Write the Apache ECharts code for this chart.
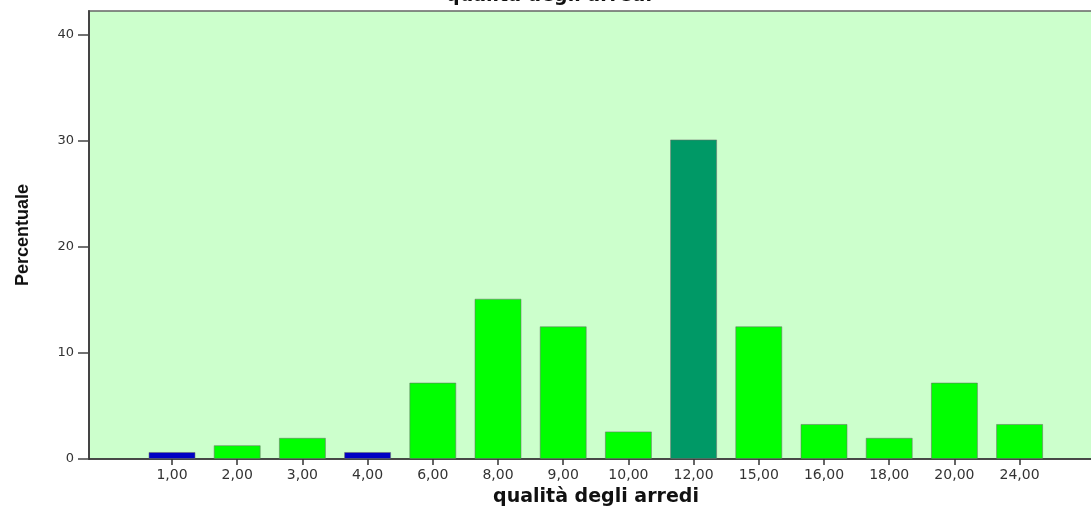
<!DOCTYPE html>
<html>
<head>
<meta charset="utf-8">
<script src="https://cdn.jsdelivr.net/npm/echarts@6/dist/echarts.min.js"></script>
<style>
  html, body { margin: 0; padding: 0; background: #ffffff; }
  #chart { width: 1091px; height: 508px; }
</style>
</head>
<body>
<div id="chart"></div>
<script>
// ---- data ----
const categories = ['1,00', '2,00', '3,00', '4,00', '6,00', '8,00', '9,00', '10,00', '12,00', '15,00', '16,00', '18,00', '20,00', '24,00'];
const percentValues = [0.66, 1.3, 2.0, 0.66, 7.2, 15.1, 12.5, 2.6, 30.1, 12.5, 3.3, 2.0, 7.2, 3.3];
const yTicks = [0, 10, 20, 30, 40];
const titleText = 'qualità degli arredi';
const xAxisTitle = 'qualità degli arredi';
const yAxisTitle = 'Percentuale';

// ---- styling ----
const defaultColor = '#00ff00';
const specialColors = { '1,00': '#0000c4', '4,00': '#0000c4', '12,00': '#009966' };
const yMax = 42.2;

const chart = echarts.init(document.getElementById('chart'), null, { renderer: 'canvas' });

const barData = percentValues.map((v, i) => ({
  value: v,
  itemStyle: { color: specialColors[categories[i]] || defaultColor }
}));

chart.setOption({
  animation: false,
  backgroundColor: '#ffffff',
  title: {
    text: titleText,
    left: 544,
    top: -18,
    textAlign: 'center',
    textStyle: { fontFamily: 'DejaVu Sans', fontWeight: 'bold', fontSize: 19, color: '#111' }
  },
  grid: [
    { left: 89, right: -12, top: 11, bottom: 49, show: true, backgroundColor: '#ccffcc', borderColor: '#666', borderWidth: 1.5, containLabel: false, outerBoundsMode: 'none' },
    { left: 139.4, width: 912.8, top: 11, bottom: 49, containLabel: false, outerBoundsMode: 'none' }
  ],
  xAxis: [
    {
      gridIndex: 0, type: 'value', min: 0, max: 1,
      axisLine: { show: true, onZero: false, lineStyle: { color: '#333', width: 1.5 } },
      axisTick: { show: false }, axisLabel: { show: false }, splitLine: { show: false },
      name: xAxisTitle, nameLocation: 'middle', nameGap: 29,
      nameTextStyle: { fontFamily: 'DejaVu Sans', fontWeight: 'bold', fontSize: 19, color: '#111' }
    },
    {
      gridIndex: 1, type: 'category', data: categories,
      axisLine: { show: false },
      axisTick: { show: true, alignWithLabel: true, length: 6, lineStyle: { color: '#333', width: 1.5 } },
      axisLabel: { margin: 9, fontFamily: 'DejaVu Sans', fontSize: 14, color: '#333' },
      splitLine: { show: false }
    }
  ],
  yAxis: [
    {
      gridIndex: 0, type: 'value', min: 0, max: yMax,
      axisLine: { show: true, lineStyle: { color: '#444', width: 2 } },
      axisTick: { show: true, length: 11, customValues: yTicks, lineStyle: { color: '#444', width: 1.5 } },
      axisLabel: { margin: 15, customValues: yTicks, fontFamily: 'DejaVu Sans', fontSize: 13, color: '#333' },
      splitLine: { show: false },
      name: yAxisTitle, nameLocation: 'middle', nameGap: 57, nameRotate: 90,
      nameTextStyle: { fontFamily: 'Liberation Sans', fontWeight: 'bold', fontSize: 18, color: '#111' }
    },
    {
      gridIndex: 1, type: 'value', min: 0, max: yMax, show: false
    }
  ],
  series: [
    {
      type: 'bar', xAxisIndex: 1, yAxisIndex: 1,
      data: barData,
      barWidth: 47,
      itemStyle: { borderColor: 'rgba(110,110,110,0.55)', borderWidth: 1 }
    }
  ]
});
</script>
</body>
</html>
